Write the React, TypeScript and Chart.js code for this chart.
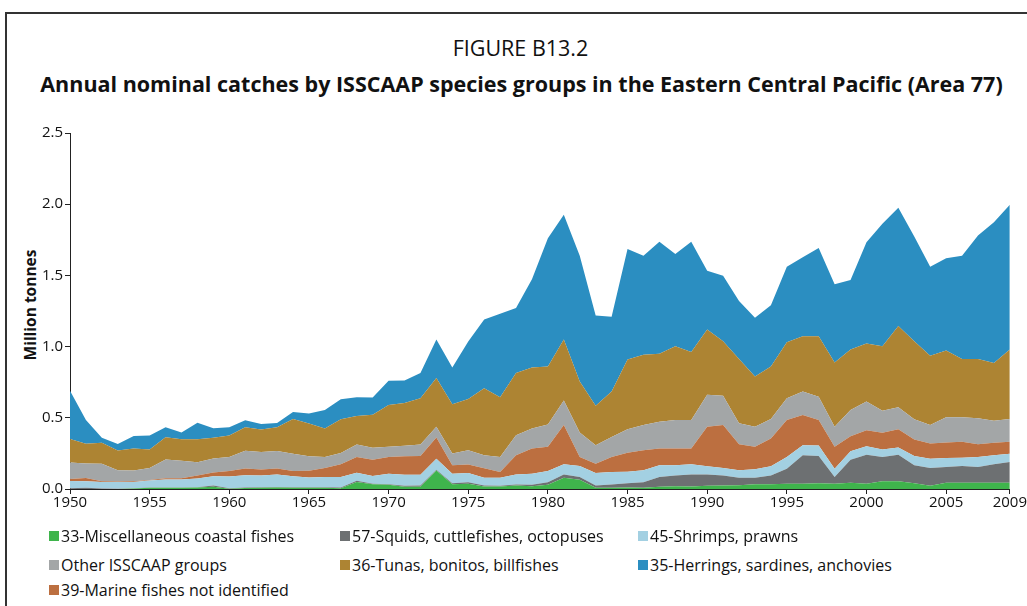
import React, { useEffect, useRef } from "react";
import { Chart, registerables } from "chart.js";

Chart.register(...registerables);

const years: number[] = [];
for (let y = 1950; y <= 2009; y++) years.push(y);

const xTickYears = [1950, 1955, 1960, 1965, 1970, 1975, 1980, 1985, 1990, 1995, 2000, 2005, 2009];
const yTickValues = [0, 0.5, 1.0, 1.5, 2.0, 2.5];

// Stack order bottom -> top
const coastal33 = [
  0, 0, 0, 0, 0.003, 0.008, 0.008, 0.008, 0.01, 0.015,
  0.002, 0.007, 0.008, 0.01, 0.008, 0.008, 0.008, 0.006, 0.05, 0.033,
  0.03, 0.015, 0.015, 0.13, 0.033, 0.037, 0.018, 0.018, 0.025, 0.02,
  0.029, 0.079, 0.065, 0.008, 0.008, 0.01, 0.008, 0.016, 0.02, 0.018,
  0.022, 0.025, 0.027, 0.034, 0.034, 0.037, 0.037, 0.041, 0.037, 0.044,
  0.037, 0.055, 0.055, 0.041, 0.022, 0.044, 0.044, 0.044, 0.044, 0.044,
];
const squids57 = [
  0.006, 0.008, 0.003, 0.002, 0.002, 0.002, 0.003, 0.003, 0.003, 0.009,
  0.004, 0.004, 0.004, 0.004, 0.004, 0.004, 0.004, 0.004, 0.008, 0.004,
  0.004, 0.007, 0.01, 0.005, 0.008, 0.011, 0.007, 0.004, 0.007, 0.009,
  0.019, 0.023, 0.019, 0.017, 0.024, 0.03, 0.04, 0.068, 0.075, 0.084,
  0.08, 0.07, 0.052, 0.045, 0.061, 0.105, 0.2, 0.191, 0.047, 0.162,
  0.204, 0.17, 0.186, 0.125, 0.125, 0.11, 0.117, 0.11, 0.129, 0.146,
];
const shrimps45 = [
  0.051, 0.046, 0.046, 0.047, 0.044, 0.049, 0.055, 0.055, 0.06, 0.066,
  0.081, 0.086, 0.082, 0.087, 0.078, 0.068, 0.072, 0.074, 0.056, 0.054,
  0.073, 0.078, 0.075, 0.078, 0.066, 0.064, 0.054, 0.057, 0.07, 0.078,
  0.078, 0.071, 0.077, 0.087, 0.087, 0.082, 0.083, 0.082, 0.071, 0.071,
  0.057, 0.052, 0.052, 0.059, 0.064, 0.083, 0.07, 0.073, 0.059, 0.059,
  0.059, 0.052, 0.05, 0.066, 0.066, 0.064, 0.059, 0.071, 0.064, 0.058,
];
const marine39 = [
  0.014, 0.024, 0.005, 0.003, 0.005, 0.005, 0.009, 0.009, 0.021, 0.025,
  0.04, 0.047, 0.043, 0.043, 0.037, 0.048, 0.063, 0.089, 0.111, 0.115,
  0.118, 0.13, 0.132, 0.149, 0.059, 0.06, 0.067, 0.04, 0.135, 0.177,
  0.17, 0.276, 0.064, 0.066, 0.106, 0.133, 0.141, 0.118, 0.118, 0.111,
  0.278, 0.302, 0.183, 0.158, 0.196, 0.259, 0.212, 0.179, 0.153, 0.106,
  0.113, 0.118, 0.129, 0.115, 0.106, 0.108, 0.111, 0.089, 0.087, 0.083,
];
const otherGroups = [
  0.115, 0.101, 0.123, 0.08, 0.076, 0.084, 0.132, 0.123, 0.094, 0.099,
  0.097, 0.125, 0.122, 0.122, 0.12, 0.102, 0.078, 0.08, 0.087, 0.083,
  0.071, 0.073, 0.08, 0.075, 0.083, 0.1, 0.091, 0.106, 0.141, 0.141,
  0.157, 0.172, 0.172, 0.129, 0.141, 0.165, 0.177, 0.188, 0.2, 0.2,
  0.224, 0.205, 0.147, 0.141, 0.136, 0.153, 0.165, 0.163, 0.141, 0.184,
  0.201, 0.155, 0.154, 0.142, 0.13, 0.177, 0.172, 0.182, 0.155, 0.16,
];
const tunas36 = [
  0.165, 0.139, 0.148, 0.139, 0.155, 0.13, 0.156, 0.151, 0.161, 0.146,
  0.151, 0.164, 0.158, 0.167, 0.245, 0.23, 0.2, 0.236, 0.2, 0.233,
  0.294, 0.301, 0.325, 0.342, 0.346, 0.36, 0.471, 0.419, 0.436, 0.429,
  0.408, 0.429, 0.358, 0.278, 0.318, 0.49, 0.494, 0.478, 0.518, 0.478,
  0.459, 0.384, 0.452, 0.353, 0.37, 0.394, 0.389, 0.426, 0.452, 0.424,
  0.407, 0.452, 0.57, 0.549, 0.487, 0.469, 0.41, 0.417, 0.406, 0.488,
];
const herrings35 = [
  0.339, 0.167, 0.035, 0.045, 0.087, 0.097, 0.07, 0.047, 0.117, 0.066,
  0.058, 0.05, 0.04, 0.031, 0.048, 0.07, 0.13, 0.141, 0.132, 0.12,
  0.17, 0.158, 0.177, 0.271, 0.259, 0.403, 0.482, 0.586, 0.457, 0.619,
  0.9, 0.876, 0.883, 0.634, 0.526, 0.775, 0.695, 0.787, 0.648, 0.775,
  0.412, 0.459, 0.407, 0.413, 0.429, 0.53, 0.554, 0.62, 0.549, 0.489,
  0.712, 0.86, 0.831, 0.735, 0.625, 0.648, 0.725, 0.867, 0.989, 1.017,
];

const seriesNames = [
  "33-Miscellaneous coastal fishes",
  "57-Squids, cuttlefishes, octopuses",
  "45-Shrimps, prawns",
  "39-Marine fishes not identified",
  "Other ISSCAAP groups",
  "36-Tunas, bonitos, billfishes",
  "35-Herrings, sardines, anchovies",
];
const seriesColors = ["#3fb44c", "#6d7072", "#a3d0e2", "#bc6f40", "#a3a6a7", "#ad8433", "#2b8ec1"];
const seriesData = [coastal33, squids57, shrimps45, marine39, otherGroups, tunas36, herrings35];

// legend layout order (rows of three)
const legendOrder = [0, 1, 2, 4, 5, 6, 3];

const FONT = "'Open Sans', 'DejaVu Sans', sans-serif";

export default function App() {
  const canvasRef = useRef<HTMLCanvasElement | null>(null);

  useEffect(() => {
    if (!canvasRef.current) return;
    const datasets = seriesData.map((arr, i) => ({
      label: seriesNames[i],
      data: arr.map((v, k) => ({ x: years[k], y: v })),
      backgroundColor: seriesColors[i],
      borderColor: seriesColors[i],
      borderWidth: 0,
      pointRadius: 0,
      tension: 0,
      fill: i === 0 ? "origin" : "-1",
    }));
    const chart = new Chart(canvasRef.current, {
      type: "line",
      data: { datasets },
      options: {
        animation: false,
        responsive: false,
        maintainAspectRatio: false,
        layout: { padding: { left: 0, right: 13, top: 133, bottom: 0 } },
        plugins: { legend: { display: false }, tooltip: { enabled: false } },
        scales: {
          x: {
            type: "linear",
            min: 1950,
            max: 2009,
            afterBuildTicks: (scale: any) => {
              scale.ticks = xTickYears.map((v) => ({ value: v }));
            },
            afterFit: (scale: any) => {
              scale.height = 41;
            },
            ticks: {
              autoSkip: false,
              maxRotation: 0,
              color: "#111",
              font: { family: FONT, size: 15 },
              padding: 0,
              callback: (v: any) => String(v),
            },
            grid: { drawOnChartArea: false, drawTicks: true, tickLength: 5, color: "#222" },
            border: { display: true, color: "#222", width: 1 },
          },
          y: {
            stacked: true,
            min: 0,
            max: 2.5,
            afterBuildTicks: (scale: any) => {
              scale.ticks = yTickValues.map((v) => ({ value: v }));
            },
            afterFit: (scale: any) => {
              scale.width = 70;
            },
            ticks: {
              color: "#111",
              font: { family: FONT, size: 15 },
              padding: 2,
              callback: (v: any) => Number(v).toFixed(1),
            },
            grid: { drawOnChartArea: false, drawTicks: true, tickLength: 5, color: "#222" },
            border: { display: true, color: "#222", width: 1 },
          },
        },
      },
    });
    return () => chart.destroy();
  }, []);

  return (
    <div style={{ position: "absolute", left: 0, top: 0, width: 1027, height: 606, overflow: "hidden", background: "#fff", fontFamily: FONT }}>
      <div style={{ position: "absolute", left: 5, top: 12, width: 1100, height: 700, borderTop: "2px solid #333", borderLeft: "2px solid #333" }} />
      <div style={{ position: "absolute", left: 0, width: 1041, top: 33, textAlign: "center", fontSize: 21.5, color: "#111" }}>FIGURE B13.2</div>
      <div style={{ position: "absolute", left: 0, width: 1043, top: 69, textAlign: "center", fontSize: 21.5, fontWeight: 700, color: "#111", whiteSpace: "nowrap" }}>
        Annual nominal catches by ISSCAAP species groups in the Eastern Central Pacific (Area 77)
      </div>
      <div style={{ position: "absolute", left: 30, top: 305, transform: "translate(-50%, -50%) rotate(-90deg)", fontSize: 15.5, fontWeight: 700, color: "#111", whiteSpace: "nowrap" }}>
        Million tonnes
      </div>
      <canvas ref={canvasRef} width={1027} height={530} style={{ position: "absolute", left: 0, top: 0, width: 1027, height: 530 }} />
      {legendOrder.map((idx, k) => {
        const col = k % 3;
        const row = Math.floor(k / 3);
        const left = [49, 340, 638][col];
        const top = [525, 554, 579][row];
        return (
          <div key={idx} style={{ position: "absolute", left, top, display: "flex", alignItems: "center", whiteSpace: "nowrap", fontSize: 16, color: "#111" }}>
            <span style={{ display: "inline-block", width: 10, height: 10, background: seriesColors[idx], marginRight: 2 }} />
            <span>{seriesNames[idx]}</span>
          </div>
        );
      })}
    </div>
  );
}
